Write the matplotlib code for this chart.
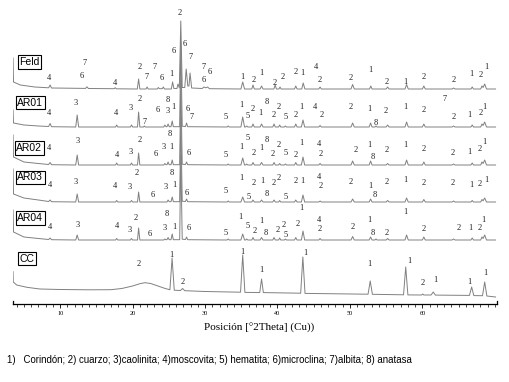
import numpy as np
import matplotlib
matplotlib.use('Agg')
import matplotlib.pyplot as plt

# ---------------------------------------------------------------
# Diffractogram traces: (2theta, intensity)
# intensity is relative to each trace's own zero line
# ---------------------------------------------------------------
feld = [
    (3.5, 31), (3.56, 7), (4.5, 4), (6.5, 2), (8.4, 1.2), (8.62, 4), (8.8, 1),
    (13.5, 0.6), (13.7, 2.2), (13.9, 0.5),
    (17.45, 0.3), (17.6, 1.3), (17.75, 0.2),
    (20.65, 0), (20.83, 10), (21.0, 0),
    (21.85, 0), (22.0, 2), (22.15, 0),
    (23.4, 0), (23.55, 1.5), (23.7, 0.3), (24.1, 0.3), (24.25, 2), (24.4, 0),
    (25.35, 0), (25.52, 7), (25.7, 0.5),
    (26.12, 0.5), (26.27, 5), (26.45, 1), (26.65, 68), (26.85, 1.5),
    (27.2, 1.5), (27.4, 20), (27.62, 3),
    (27.78, 3), (27.93, 16), (28.15, 1),
    (29.6, 0.5), (29.85, 2), (30.1, 1.2), (30.35, 2), (30.6, 0.3),
    (34.95, 0), (35.2, 7), (35.45, 0),
    (36.45, 0), (36.62, 4), (36.8, 0),
    (37.6, 0), (37.8, 3), (38.0, 0),
    (39.5, 0), (39.68, 4), (39.85, 0),
    (40.2, 0), (40.35, 2), (40.5, 0),
    (42.35, 0), (42.52, 3), (42.7, 0),
    (43.35, 0), (43.55, 6), (43.78, 0),
    (45.7, 0), (45.88, 2), (46.05, 0),
    (50.15, 0), (50.37, 4.5), (50.6, 0),
    (52.7, 0), (52.88, 3), (53.05, 0),
    (55.0, 0), (55.2, 2), (55.4, 0),
    (57.6, 0), (57.82, 4.5), (58.05, 0),
    (60.0, 0), (60.2, 3), (60.4, 0),
    (64.1, 0), (64.3, 1), (64.5, 0),
    (66.7, 0), (66.88, 2), (67.05, 0),
    (68.05, 0), (68.22, 3), (68.38, 1.5), (68.6, 5), (68.85, 0),
    (70.1, 0)]

ar01 = [
    (3.5, 17), (3.56, 4), (5, 2), (7, 1), (8.4, 0.5), (8.62, 3.5), (8.8, 0.3),
    (12.15, 0), (12.35, 12), (12.55, 0),
    (17.65, 0), (17.8, 2), (17.95, 0),
    (19.7, 0), (19.85, 2), (20.0, 0),
    (20.68, 0), (20.83, 15), (21.0, 0),
    (21.5, 0), (21.62, 1), (21.75, 0),
    (24.3, 0), (24.45, 2), (24.6, 0.3), (24.75, 0.3), (24.9, 3), (25.05, 0.3),
    (25.3, 0.3), (25.47, 6), (25.62, 0.3),
    (26.5, 0.3), (26.65, 85), (26.85, 0.8),
    (27.3, 0.5), (27.45, 4), (27.6, 0.3),
    (33.05, 0), (33.2, 1), (33.35, 0),
    (34.95, 0), (35.2, 10), (35.45, 0),
    (35.6, 0), (35.75, 1), (35.9, 0),
    (36.45, 0), (36.62, 3), (36.8, 0),
    (37.6, 0), (37.8, 3), (38.0, 0),
    (39.35, 0), (39.52, 3), (39.7, 0),
    (40.15, 0), (40.3, 2), (40.45, 0),
    (40.95, 0), (41.1, 1), (41.25, 0),
    (42.35, 0), (42.52, 3), (42.7, 0),
    (43.3, 0), (43.52, 7), (43.75, 0),
    (45.7, 0), (45.88, 1.5), (46.05, 0),
    (50.15, 0), (50.37, 4), (50.6, 0),
    (52.65, 0), (52.85, 4), (53.05, 0),
    (53.45, 0), (53.6, 1), (53.75, 0),
    (55.0, 0), (55.2, 2), (55.4, 0),
    (57.6, 0), (57.82, 5), (58.05, 0),
    (60.0, 0), (60.2, 3), (60.4, 0),
    (64.1, 0), (64.3, 1), (64.5, 0),
    (66.7, 0), (66.88, 2), (67.05, 0),
    (68.05, 0), (68.22, 3), (68.38, 1.5), (68.6, 5), (68.85, 0),
    (70.1, 0)]

ar02 = [
    (3.5, 30), (3.56, 8), (5, 3), (7, 1.5), (8.4, 0.5), (8.62, 2.5), (8.8, 0.3),
    (12.15, 0), (12.35, 10), (12.55, 0),
    (17.65, 0), (17.8, 2), (17.95, 0),
    (19.7, 0), (19.85, 2), (20.0, 0),
    (20.68, 0), (20.83, 12), (21.0, 0),
    (24.3, 0), (24.45, 1.5), (24.6, 0.3), (24.75, 0.3), (24.9, 3), (25.05, 0.3),
    (25.3, 0.3), (25.47, 5), (25.62, 0.3),
    (26.5, 0.3), (26.65, 85), (26.85, 0.8),
    (27.3, 0.5), (27.45, 3), (27.6, 0.3),
    (33.05, 0), (33.2, 1), (33.35, 0),
    (34.95, 0), (35.2, 7), (35.45, 0),
    (35.6, 0), (35.75, 1), (35.9, 0),
    (36.45, 0), (36.62, 2.5), (36.8, 0),
    (37.6, 0), (37.8, 2.5), (38.0, 0),
    (39.35, 0), (39.52, 2.5), (39.7, 0),
    (40.15, 0), (40.3, 1.5), (40.45, 0),
    (40.95, 0), (41.1, 1), (41.25, 0),
    (42.35, 0), (42.52, 2.5), (42.7, 0),
    (43.3, 0), (43.52, 8), (43.75, 0),
    (45.7, 0), (45.88, 1.5), (46.05, 0),
    (50.15, 0), (50.37, 4), (50.6, 0),
    (52.65, 0), (52.85, 4), (53.05, 0),
    (55.0, 0), (55.2, 1.5), (55.4, 0),
    (57.6, 0), (57.82, 5), (58.05, 0),
    (60.0, 0), (60.2, 3), (60.4, 0),
    (64.1, 0), (64.3, 1), (64.5, 0),
    (66.7, 0), (66.88, 2), (67.05, 0),
    (68.05, 0), (68.22, 3), (68.38, 1.5), (68.6, 5), (68.85, 0),
    (70.1, 0)]

ar03 = [
    (3.5, 33), (3.56, 8), (5, 4), (7, 2), (8.4, 0.5), (8.62, 2), (8.8, 0.3),
    (12.15, 0), (12.35, 8), (12.55, 0),
    (17.65, 0), (17.8, 1.5), (17.95, 0),
    (19.7, 0), (19.85, 1.5), (20.0, 0),
    (20.68, 0), (20.83, 10), (21.0, 0),
    (24.75, 0), (24.9, 2), (25.05, 0.3),
    (25.3, 0.3), (25.47, 5), (25.62, 0.3),
    (26.5, 0.3), (26.65, 85), (26.85, 0.8),
    (27.3, 0.5), (27.45, 3), (27.6, 0.3),
    (33.05, 0), (33.2, 1), (33.35, 0),
    (34.95, 0), (35.2, 5), (35.45, 0),
    (36.45, 0), (36.62, 2), (36.8, 0),
    (37.6, 0), (37.8, 2), (38.0, 0),
    (39.35, 0), (39.52, 2), (39.7, 0),
    (40.15, 0), (40.3, 1.5), (40.45, 0),
    (42.35, 0), (42.52, 2), (42.7, 0),
    (43.3, 0), (43.52, 7), (43.75, 0),
    (45.7, 0), (45.88, 1), (46.05, 0),
    (50.15, 0), (50.37, 3), (50.6, 0),
    (52.65, 0), (52.85, 3), (53.05, 0),
    (55.0, 0), (55.2, 1.5), (55.4, 0),
    (57.6, 0), (57.82, 4), (58.05, 0),
    (60.0, 0), (60.2, 2.5), (60.4, 0),
    (64.1, 0), (64.3, 1), (64.5, 0),
    (66.7, 0), (66.88, 1.5), (67.05, 0),
    (68.05, 0), (68.22, 2.5), (68.38, 1.2), (68.6, 4), (68.85, 0),
    (70.1, 0)]

ar04 = [
    (3.5, 30), (3.56, 8), (5, 3), (7, 1.5), (8.4, 0.5), (8.62, 2), (8.8, 0.3),
    (12.15, 0), (12.35, 5), (12.55, 0),
    (17.65, 0), (17.8, 1.5), (17.95, 0),
    (19.7, 0), (19.85, 1.5), (20.0, 0),
    (20.68, 0), (20.83, 12), (21.0, 0),
    (24.3, 0), (24.45, 1), (24.6, 0.3), (24.75, 0.3), (24.9, 2.5), (25.05, 0.3),
    (25.3, 0.3), (25.47, 6), (25.62, 0.3),
    (26.5, 0.3), (26.65, 85), (26.85, 0.8),
    (27.3, 0.5), (27.45, 3), (27.6, 0.3),
    (33.05, 0), (33.2, 1), (33.35, 0),
    (34.95, 0), (35.2, 6), (35.45, 0),
    (35.6, 0), (35.75, 1), (35.9, 0),
    (36.45, 0), (36.62, 2.5), (36.8, 0),
    (37.6, 0), (37.8, 2.5), (38.0, 0),
    (39.35, 0), (39.52, 2.5), (39.7, 0),
    (40.15, 0), (40.3, 2), (40.45, 0),
    (40.95, 0), (41.1, 1), (41.25, 0),
    (42.35, 0), (42.52, 2.5), (42.7, 0),
    (43.3, 0), (43.52, 9), (43.75, 0),
    (45.7, 0), (45.88, 1.5), (46.05, 0),
    (50.15, 0), (50.37, 3.5), (50.6, 0),
    (52.65, 0), (52.85, 3), (53.05, 0),
    (53.45, 0), (53.6, 1), (53.75, 0),
    (55.0, 0), (55.2, 1.5), (55.4, 0),
    (57.6, 0), (57.82, 5), (58.05, 0),
    (60.0, 0), (60.2, 3), (60.4, 0),
    (64.1, 0), (64.3, 1), (64.5, 0),
    (66.7, 0), (66.88, 2), (67.05, 0),
    (68.05, 0), (68.22, 3), (68.38, 1.5), (68.6, 5), (68.85, 0),
    (70.1, 0)]

cc = [
    (3.5, 25.3), (3.53, 15), (4.0, 12), (5.4, 9.7), (7.2, 8), (10, 7.5), (14, 7.2),
    (17, 7.3), (18.5, 8.5), (20, 11), (21, 13.3), (21.7, 14.3), (22.5, 13.5),
    (23.5, 11), (24.5, 8.5), (25.15, 7.3), (25.45, 39), (25.75, 6.8),
    (26.6, 6.5), (26.9, 8.5), (27.2, 6.3),
    (30, 5.5), (34.9, 4.8), (35.2, 42), (35.5, 4.6),
    (37.55, 4.5), (37.8, 18), (38.05, 4.4),
    (43.2, 3.8), (43.5, 40), (43.8, 3.6),
    (52.5, 2.8), (52.8, 16), (53.1, 2.7),
    (57.4, 2.2), (57.7, 30), (58.0, 2.1),
    (59.9, 2), (60.05, 3), (60.2, 2),
    (61.2, 2), (61.5, 5), (61.8, 1.9),
    (66.5, 1.6), (66.8, 10), (67.1, 1.4),
    (68.3, 1.3), (68.6, 15), (68.9, 1),
    (70.1, 0)]

# phase labels over the peaks: (2theta, height above trace zero, phase number)
feld_lbl = [
    (8.52, 10.7, '4'), (13.31, 25.7, '7'), (12.99, 13, '6'), (17.59, 5.7, '4'),
    (21.03, 22.3, '2'), (22.97, 22.3, '7'), (21.86, 12.3, '7'), (24.03, 10.7, '6'),
    (25.41, 15, '1'), (25.63, 38.3, '6'), (26.46, 75.7, '2'), (27.24, 44.7, '6'),
    (28.03, 31.7, '7'), (29.77, 22.3, '7'), (30.59, 17.3, '6'), (29.77, 9, '6'),
    (35.2, 11.7, '1'), (36.66, 9, '2'), (37.82, 15.7, '1'), (39.66, 6.3, '2'),
    (40.66, 11.7, '2'), (42.55, 17.3, '2'), (43.42, 15.7, '1'), (45.31, 21.7, '4'),
    (45.86, 9, '2'), (50.14, 11.3, '2'), (52.76, 19, '1'), (55.06, 7.3, '2'),
    (57.59, 7.3, '1'), (60.21, 11.7, '2'), (64.34, 9, '2'), (66.78, 15, '1'),
    (68.03, 14, '2'), (68.85, 22.3, '1')]

ar01_lbl = [
    (8.52, 14.3, '4'), (12.21, 23.7, '3'), (17.68, 14.3, '4'), (19.75, 18.7, '3'),
    (20.94, 27.7, '2'), (21.59, 5.3, '7'), (23.42, 17, '6'), (24.86, 27, '8'),
    (24.86, 16, '3'), (25.63, 19.7, '1'), (27.56, 17.7, '6'), (28.17, 9.7, '7'),
    (32.9, 10.3, '5'), (35.06, 22, '1'), (35.84, 11, '5'), (36.62, 17.7, '2'),
    (37.68, 13.7, '1'), (38.51, 24.7, '8'), (39.52, 12, '2'), (40.21, 20.3, '2'),
    (41.13, 10.3, '5'), (42.51, 12, '2'), (43.24, 20.3, '1'), (45.17, 20.3, '4'),
    (46.1, 12, '2'), (50.14, 19.7, '2'), (52.62, 17.7, '1'), (53.55, 4.3, '8'),
    (54.97, 16, '2'), (57.59, 19.7, '1'), (60.11, 17, '2'), (63.1, 28, '7'),
    (64.34, 10.3, '2'), (66.55, 12, '1'), (68.03, 13.7, '2'), (68.52, 20.3, '1')]

ar02_lbl = [
    (8.39, 16.7, '4'), (12.39, 24.3, '3'), (17.9, 10, '4'), (19.79, 13.3, '3'),
    (20.94, 25, '2'), (23.14, 11, '6'), (24.35, 18.3, '3'), (25.1, 30.7, '8'),
    (25.41, 17.7, '1'), (27.7, 11.7, '6'), (32.9, 10, '5'), (35.06, 18.3, '1'),
    (35.89, 26.7, '5'), (36.66, 11.7, '2'), (37.82, 16.7, '1'), (38.51, 25, '8'),
    (39.34, 11, '2'), (40.21, 20, '2'), (41.13, 11.7, '5'), (42.55, 10, '2'),
    (43.34, 22.3, '1'), (45.72, 21, '4'), (45.96, 10.7, '2'), (50.83, 15, '2'),
    (52.66, 20, '1'), (53.21, 7.7, '8'), (55.06, 15, '2'), (57.59, 20, '1'),
    (60.11, 15.7, '2'), (64.25, 11.7, '2'), (66.55, 13.3, '1'), (67.93, 15.7, '2'),
    (68.52, 23.3, '1')]

ar03_lbl = [
    (8.62, 17, '4'), (12.21, 20.3, '3'), (17.59, 16, '4'), (19.66, 15.3, '3'),
    (20.58, 28.7, '2'), (22.79, 7, '6'), (24.62, 15.3, '3'), (25.41, 28.7, '8'),
    (25.72, 17, '1'), (27.47, 8.7, '6'), (32.9, 11.3, '5'), (35.06, 23.7, '1'),
    (35.97, 5.3, '5'), (36.66, 19.3, '2'), (37.9, 21, '1'), (38.51, 8, '8'),
    (39.42, 18.7, '2'), (40.21, 23.7, '2'), (41.13, 4.7, '5'), (42.55, 21, '2'),
    (43.38, 21, '1'), (45.72, 24.7, '4'), (45.96, 16, '2'), (50.14, 20.3, '2'),
    (52.76, 16, '1'), (53.45, 7, '8'), (55.06, 20.3, '2'), (57.68, 22, '1'),
    (60.11, 19.3, '2'), (64.25, 19.3, '2'), (66.78, 17, '1'), (67.93, 17.7, '2'),
    (68.85, 22, '1')]

ar04_lbl = [
    (8.62, 12.7, '4'), (12.39, 15, '3'), (17.82, 14, '4'), (19.66, 10, '3'),
    (20.48, 21.7, '2'), (22.32, 6, '6'), (24.39, 11.7, '3'), (24.72, 26, '8'),
    (25.72, 13.3, '1'), (27.7, 11.7, '6'), (32.9, 7.3, '5'), (34.83, 22.7, '1'),
    (35.89, 14, '5'), (36.9, 9.3, '2'), (37.82, 19.3, '1'), (38.41, 6.7, '8'),
    (40.03, 10, '2'), (40.8, 15, '2'), (41.13, 5, '5'), (42.73, 16, '2'),
    (43.34, 31.7, '1'), (45.77, 20, '4'), (45.86, 11.3, '2'), (50.37, 13.3, '2'),
    (52.62, 20, '1'), (53.21, 6.7, '8'), (55.06, 7.3, '2'), (57.59, 28.3, '1'),
    (60.11, 10.7, '2'), (65.03, 11.7, '2'), (66.65, 11.7, '1'), (67.93, 11.7, '2'),
    (68.39, 20, '1')]

cc_lbl = [
    (20.8, 33, '2'), (25.41, 42, '1'), (26.92, 15.3, '2'), (35.2, 45.3, '1'),
    (37.82, 27, '1'), (43.79, 44.3, '1'), (52.62, 33, '1'), (58.14, 36.3, '1'),
    (60.03, 14.3, '2'), (61.82, 17, '1'), (66.55, 15.3, '1'), (68.76, 24.3, '1')]

names = ['Feld', 'AR01', 'AR02', 'AR03', 'AR04', 'CC']
traces = [feld, ar01, ar02, ar03, ar04, cc]
labels = [feld_lbl, ar01_lbl, ar02_lbl, ar03_lbl, ar04_lbl, cc_lbl]

# vertical stacking of the patterns and where the sample name sits
offsets = [215, 177, 139, 102, 64, 7]
name_xy = [(5.8, 27), (5.9, 24.2), (5.72, 17), (5.86, 24.5), (5.86, 22), (5.4, 38.5)]

fig = plt.figure(figsize=(5.1, 3.82), dpi=100)
ax = fig.add_axes([12.7 / 510, 78 / 382, 484.3 / 510, 299 / 382])

for pts, off, lbls, name, (nx, ny) in zip(traces, offsets, labels, names, name_xy):
    arr = np.array(pts)
    ax.plot(arr[:, 0], arr[:, 1] + off, color='#808080', linewidth=0.7)
    for x, h, txt in lbls:
        ax.text(x, off + h, txt, ha='center', va='center', fontsize=6,
                family='Liberation Serif', color='#202020')
    ax.text(nx, off + ny, name, ha='center', va='center', fontsize=7.5,
            family='Liberation Sans', color='black',
            bbox=dict(boxstyle='square,pad=0.15', facecolor='white',
                      edgecolor='black', linewidth=0.8))

ax.set_xlim(3.45, 70.3)
ax.set_ylim(0, 299)
ax.spines['top'].set_visible(False)
ax.spines['left'].set_bounds(0, 3)
ax.spines['right'].set_bounds(0, 3)
for s in ['left', 'right', 'bottom']:
    ax.spines[s].set_linewidth(0.9)
ax.set_yticks([])
ax.set_xticks(range(10, 70, 10))
ax.set_xticks(range(4, 71), minor=True)
ax.tick_params(axis='x', which='major', length=3, width=0.6, labelsize=4.5, pad=2)
ax.tick_params(axis='x', which='minor', length=2, width=0.5)
for lbl in ax.get_xticklabels():
    lbl.set_fontfamily('Liberation Serif')

fig.text(259 / 510, 1 - 328 / 382, 'Posición [°2Theta] (Cu))', ha='center', va='center',
         fontsize=8, family='Liberation Serif')
fig.text(7 / 510, 1 - 360 / 382,
         '1)   Corindón; 2) cuarzo; 3)caolinita; 4)moscovita; 5) hematita; '
         '6)microclina; 7)albita; 8) anatasa',
         ha='left', va='center', fontsize=6.9, family='Liberation Sans')

plt.savefig('out.png', dpi=100)
